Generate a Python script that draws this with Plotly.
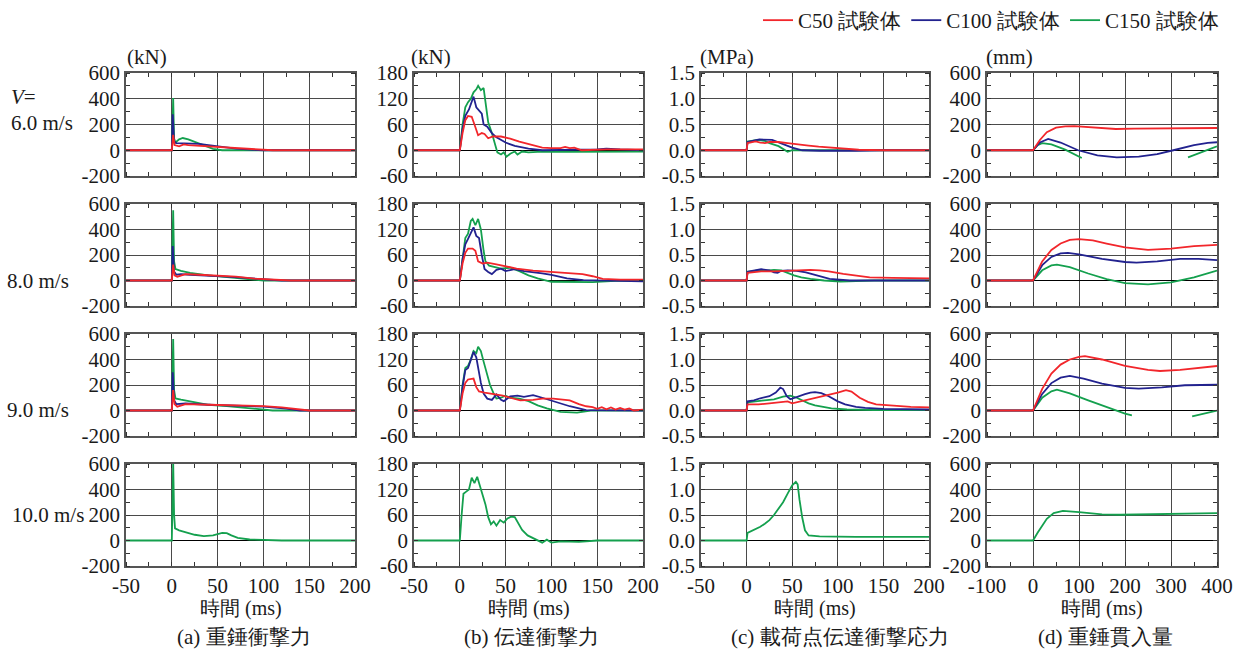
import plotly.graph_objects as go

# ---------------- data (time ms, value) ----------------
# (a) hammer impact force [kN]
a6_c50 = [(-50,0),(0,0),(1.5,120),(3,40),(8,30),(13,45),(18,40),(30,35),(50,25),(70,15),(90,8),(100,3),(110,0),(200,0)]
a6_c100 = [(-50,0),(0,0),(1,280),(2.5,70),(5,55),(15,55),(30,50),(40,40),(55,25),(70,12),(90,3),(100,0),(200,0)]
a6_c150 = [(-50,0),(0,0),(0.8,200),(1.5,405),(2.5,90),(4,60),(8,85),(12,95),(18,85),(25,65),(35,35),(45,10),(55,0),(200,0)]
a8_c50 = [(-50,0),(0,0),(1.5,125),(3,40),(6,30),(15,50),(30,45),(50,38),(70,30),(90,15),(110,5),(130,0),(200,0)]
a8_c100 = [(-50,0),(0,0),(1,270),(2.5,70),(5,45),(10,50),(20,45),(40,40),(60,30),(80,20),(100,8),(120,0),(200,0)]
a8_c150 = [(-50,0),(0,0),(0.8,300),(1.5,550),(2.5,150),(4,90),(10,75),(20,60),(40,40),(60,25),(80,10),(100,0),(200,0)]
a9_c50 = [(-50,0),(0,0),(1.5,160),(3,50),(6,30),(15,50),(40,45),(70,42),(100,35),(120,25),(140,10),(150,0),(200,0)]
a9_c100 = [(-50,0),(0,0),(1,300),(2.5,80),(5,50),(15,55),(40,45),(70,40),(100,30),(125,15),(140,0),(200,0)]
a9_c150 = [(-50,0),(0,0),(0.8,300),(1.5,560),(2.5,160),(4,95),(10,85),(20,70),(40,45),(60,35),(80,20),(100,5),(110,0),(200,0)]
a10_c150 = [(-50,0),(0,0),(0.8,300),(1.5,620),(2.5,200),(3.5,95),(8,80),(16,62),(25,45),(35,35),(45,40),(55,60),(60,58),(65,40),(72,20),(85,8),(100,3),(120,0),(200,0)]

# (b) transmitted impact force [kN]
b6_c50 = [(-50,0),(0,0),(3,40),(6,70),(9,80),(13,78),(16,60),(20,35),(24,40),(27,38),(31,28),(36,32),(45,32),(55,27),(65,20),(75,14),(90,6),(100,5),(110,5),(115,8),(120,5),(125,6),(133,0),(160,2),(200,2)]
b6_c100 = [(-50,0),(0,0),(3,50),(6,80),(10,95),(13,115),(15,125),(18,100),(21,92),(24,85),(26,60),(30,55),(35,40),(40,30),(50,18),(60,10),(75,4),(90,0),(150,2),(160,4),(175,2),(200,0)]
b6_c150 = [(-50,0),(0,0),(3,60),(6,100),(9,112),(12,120),(15,135),(18,142),(20,150),(23,140),(26,145),(28,110),(31,65),(35,40),(38,20),(41,-5),(45,-10),(48,-5),(51,-15),(55,-8),(60,-3),(63,-10),(68,-3),(75,-5),(90,-3),(120,-4),(200,-3)]
b8_c50 = [(-50,0),(0,0),(3,40),(6,65),(9,75),(14,75),(17,70),(20,45),(25,40),(30,42),(40,38),(50,33),(62,28),(80,23),(98,20),(115,17),(134,15),(145,10),(156,4),(175,2),(200,2)]
b8_c100 = [(-50,0),(0,0),(3,50),(6,85),(9,98),(12,110),(15,125),(18,105),(21,100),(24,60),(27,27),(31,20),(35,15),(40,25),(45,28),(50,22),(55,25),(60,27),(70,22),(80,20),(90,17),(100,13),(117,5),(135,1),(150,0),(200,-2)]
b8_c150 = [(-50,0),(0,0),(3,50),(6,100),(9,110),(12,140),(14,145),(17,130),(20,145),(23,120),(26,70),(28,45),(32,35),(38,32),(45,28),(55,30),(65,22),(75,12),(85,5),(100,-3),(120,-4),(145,-4),(170,-1),(200,0)]
b9_c50 = [(-50,0),(0,0),(3,40),(6,65),(9,73),(15,75),(18,55),(21,45),(27,42),(33,40),(40,38),(47,35),(55,30),(66,24),(80,25),(90,28),(102,28),(112,26),(120,24),(130,15),(138,10),(145,8),(150,4),(155,8),(160,3),(165,7),(170,2),(175,6),(180,2),(185,5),(190,0),(200,2)]
b9_c100 = [(-50,0),(0,0),(3,55),(6,95),(9,100),(12,120),(15,138),(18,125),(20,100),(23,65),(26,40),(30,28),(35,25),(40,38),(45,25),(48,22),(55,33),(63,35),(70,32),(80,36),(90,30),(98,25),(110,18),(120,10),(138,1),(200,0)]
b9_c150 = [(-50,0),(0,0),(3,60),(6,100),(9,105),(12,120),(15,140),(18,135),(20,150),(23,140),(26,115),(30,80),(33,60),(37,40),(40,28),(45,30),(50,35),(55,30),(65,28),(75,22),(85,12),(95,5),(110,-3),(128,-5),(143,0),(200,0)]
b10_c150 = [(-50,0),(0,0),(2,60),(4,110),(7,115),(10,120),(13,148),(16,135),(19,150),(22,130),(25,110),(28,85),(31,55),(34,38),(37,45),(40,35),(44,48),(48,42),(52,52),(56,56),(60,55),(64,40),(68,25),(74,12),(80,5),(85,0),(90,-5),(95,2),(100,-5),(110,-2),(130,-3),(150,0),(200,0)]

# (c) transmitted impact stress at loading point [MPa]
c6_c50 = [(-50,0),(0,0),(1,0.14),(5,0.16),(10,0.17),(15,0.15),(20,0.14),(25,0.16),(35,0.16),(45,0.14),(57,0.11),(68,0.09),(79,0.07),(97,0.04),(110,0.02),(123,0.01),(150,0),(200,0)]
c6_c100 = [(-50,0),(0,0),(1,0.16),(5,0.18),(14,0.21),(28,0.2),(35,0.15),(42,0.1),(50,0.05),(61,0),(80,-0.01),(120,-0.01),(150,0),(200,0)]
c6_c150 = [(-50,0),(0,0),(1,0.17),(5,0.18),(12,0.2),(20,0.18),(25,0.14),(35,0.08),(45,-0.03),(50,0),(200,0)]
c8_c50 = [(-50,0),(0,0),(1,0.15),(8,0.17),(16,0.18),(30,0.18),(45,0.19),(60,0.2),(70,0.21),(80,0.2),(90,0.18),(106,0.13),(120,0.09),(135,0.06),(160,0.05),(200,0.04)]
c8_c100 = [(-50,0),(0,0),(1,0.17),(8,0.2),(16,0.22),(25,0.2),(30,0.16),(34,0.15),(38,0.19),(45,0.2),(55,0.19),(65,0.16),(77,0.1),(91,0.03),(113,0),(200,0)]
c8_c150 = [(-50,0),(0,0),(1,0.17),(8,0.19),(13,0.2),(20,0.19),(30,0.21),(38,0.2),(45,0.15),(52,0.1),(60,0.06),(70,0.03),(85,0),(103,-0.02),(120,-0.01),(140,0),(200,0)]
c9_c50 = [(-50,0),(0,0),(1,0.12),(13,0.12),(25,0.14),(39,0.16),(45,0.18),(50,0.14),(60,0.18),(70,0.22),(80,0.26),(90,0.3),(100,0.35),(109,0.4),(115,0.37),(124,0.25),(133,0.17),(142,0.12),(160,0.09),(180,0.07),(200,0.06)]
c9_c100 = [(-50,0),(0,0),(1,0.18),(8,0.2),(15,0.24),(25,0.28),(32,0.35),(37,0.45),(40,0.42),(44,0.28),(48,0.22),(55,0.27),(64,0.32),(70,0.35),(75,0.36),(82,0.34),(90,0.28),(100,0.18),(108,0.12),(120,0.07),(130,0.05),(150,0.03),(200,0.02)]
c9_c150 = [(-50,0),(0,0),(1,0.16),(10,0.18),(21,0.2),(30,0.22),(40,0.27),(48,0.29),(55,0.25),(61,0.2),(68,0.14),(75,0.1),(85,0.06),(93,0.04),(110,0.02),(140,0.01),(200,0.01)]
c10_c150 = [(-50,0),(0,0),(1,0.15),(5,0.18),(10,0.22),(15,0.27),(20,0.33),(25,0.4),(30,0.5),(35,0.62),(40,0.75),(45,0.92),(50,1.08),(54,1.15),(56,1.1),(58,0.8),(61,0.45),(64,0.2),(68,0.1),(80,0.08),(120,0.07),(200,0.07)]

# (d) hammer penetration [mm]
d6_c50 = [(-100,0),(0,0),(15,80),(30,140),(50,175),(70,185),(90,188),(130,180),(180,165),(220,168),(300,172),(400,173)]
d6_c100 = [(-100,0),(0,0),(15,60),(33,88),(60,60),(98,0),(140,-40),(182,-55),(230,-50),(270,-30),(305,0),(350,40),(380,58),(400,62)]
d6_c150 = [(-100,0),(0,0),(10,40),(20,55),(40,45),(70,5),(106,-60),(200,None),(337,-55),(370,-10),(400,30)]
d8_c50 = [(-100,0),(0,0),(20,150),(40,240),(60,290),(80,318),(100,325),(130,315),(160,290),(200,260),(250,240),(300,250),(350,270),(400,280)]
d8_c100 = [(-100,0),(0,0),(20,120),(40,185),(60,212),(76,217),(100,205),(150,170),(200,145),(225,140),(270,150),(320,170),(360,170),(400,160)]
d8_c150 = [(-100,0),(0,0),(20,80),(40,118),(52,124),(80,105),(120,55),(160,10),(200,-20),(250,-30),(300,-15),(350,25),(400,78)]
d9_c50 = [(-100,0),(0,0),(20,170),(40,290),(60,360),(80,400),(100,420),(113,426),(150,400),(200,350),(250,318),(276,310),(320,318),(360,335),(400,349)]
d9_c100 = [(-100,0),(0,0),(20,130),(40,215),(60,258),(80,271),(110,250),(150,210),(200,178),(230,172),(280,182),(330,198),(400,202)]
d9_c150 = [(-100,0),(0,0),(20,100),(40,150),(52,163),(80,135),(120,80),(160,25),(200,-25),(215,-39),(280,None),(346,-47),(370,-28),(400,0)]
d10_c150 = [(-100,0),(0,0),(10,60),(20,120),(30,170),(45,215),(65,233),(100,222),(150,205),(190,202),(250,205),(300,212),(350,216),(400,215)]

SPEED_LABELS = ["6.0 m/s", "8.0 m/s", "9.0 m/s", "10.0 m/s"]
SERIES_NAMES = ["C50 試験体", "C100 試験体", "C150 試験体"]
UNITS = ["(kN)", "(kN)", "(MPa)", "(mm)"]
CAPTIONS = ["(a) 重錘衝撃力", "(b) 伝達衝撃力", "(c) 載荷点伝達衝撃応力", "(d) 重錘貫入量"]
X_TITLE = "時間 (ms)"

X_TICKS_T = [-50, 0, 50, 100, 150, 200]
X_TICKS_D = [-100, 0, 100, 200, 300, 400]
Y_TICKS_A = [-200, 0, 200, 400, 600]
Y_TICKS_B = [-60, 0, 60, 120, 180]
Y_TICKS_C = [-0.5, 0.0, 0.5, 1.0, 1.5]
Y_TICKS_D = [-200, 0, 200, 400, 600]

# ---------------- styling / layout ----------------
W, H = 1249, 649
FONT = "Liberation Serif"
FS = 21
COLORS = ["#F2262B", "#22228F", "#14A04E"]
COL_PX = [(126, 355), (414, 643), (701, 929), (987, 1217)]
ROW_PX = [(73, 176), (204, 306), (334, 436), (464, 566)]

panels = [
    [[a6_c50, a6_c100, a6_c150], [b6_c50, b6_c100, b6_c150], [c6_c50, c6_c100, c6_c150], [d6_c50, d6_c100, d6_c150]],
    [[a8_c50, a8_c100, a8_c150], [b8_c50, b8_c100, b8_c150], [c8_c50, c8_c100, c8_c150], [d8_c50, d8_c100, d8_c150]],
    [[a9_c50, a9_c100, a9_c150], [b9_c50, b9_c100, b9_c150], [c9_c50, c9_c100, c9_c150], [d9_c50, d9_c100, d9_c150]],
    [[None, None, a10_c150], [None, None, b10_c150], [None, None, c10_c150], [None, None, d10_c150]],
]

col_cfg = [
    dict(xr=[-50, 200], xt=X_TICKS_T, xm=25, yr=[-200, 600], yt=Y_TICKS_A, ym=100, fmt="{:g}"),
    dict(xr=[-50, 200], xt=X_TICKS_T, xm=25, yr=[-60, 180], yt=Y_TICKS_B, ym=30, fmt="{:g}"),
    dict(xr=[-50, 200], xt=X_TICKS_T, xm=25, yr=[-0.5, 1.5], yt=Y_TICKS_C, ym=0.25, fmt="{:.1f}"),
    dict(xr=[-100, 400], xt=X_TICKS_D, xm=50, yr=[-200, 600], yt=Y_TICKS_D, ym=100, fmt="{:g}"),
]

fig = go.Figure()
layout = {}
GRID = "#4a4a4a"
FRAME = "#555555"

for r in range(4):
    for c in range(4):
        k = r * 4 + c + 1
        xs = "" if k == 1 else str(k)
        cfg = col_cfg[c]
        x0, x1 = COL_PX[c]
        y0, y1 = ROW_PX[r]
        common = dict(
            showline=True, linecolor=FRAME, linewidth=1.5, mirror="allticks",
            showgrid=True, gridcolor=GRID, gridwidth=1,
            ticks="outside", ticklen=0, tickfont=dict(family=FONT, size=FS, color="#1a1a1a"),
            fixedrange=True, automargin=False,
        )
        layout["xaxis" + xs] = dict(
            common, domain=[x0 / W, x1 / W], anchor="y" + xs, range=cfg["xr"],
            tickmode="array", tickvals=cfg["xt"],
            ticktext=[str(v) for v in cfg["xt"]],
            showticklabels=(r == 3), zeroline=False, ticklabelstandoff=0,
            minor=dict(ticks="inside", ticklen=4, tickcolor="#333", dtick=cfg["xm"], tick0=0, showgrid=False),
        )
        layout["yaxis" + xs] = dict(
            common, domain=[1 - y1 / H, 1 - y0 / H], anchor="x" + xs, range=cfg["yr"],
            tickmode="array", tickvals=cfg["yt"],
            ticktext=[cfg["fmt"].format(v) for v in cfg["yt"]],
            zeroline=True, zerolinecolor="#000000", zerolinewidth=1, ticklabelstandoff=0,
            minor=dict(ticks="inside", ticklen=4, tickcolor="#333", dtick=cfg["ym"], tick0=0, showgrid=False),
        )
        series = panels[r][c]
        for s in [2, 1, 0]:
            pts = series[s]
            if pts is None:
                continue
            fig.add_trace(go.Scatter(
                x=[p[0] for p in pts], y=[p[1] for p in pts],
                mode="lines", line=dict(color=COLORS[s], width=1.8),
                name=SERIES_NAMES[s], legendrank=s + 1,
                showlegend=(k == 1), connectgaps=False,
                xaxis="x" + xs, yaxis="y" + xs, hoverinfo="skip",
            ))

ann = []
def A(text, x, y, size=FS, xanchor="left"):
    ann.append(dict(text=text, x=x / W, y=1 - y / H, xref="paper", yref="paper",
                    xanchor=xanchor, yanchor="middle", showarrow=False,
                    font=dict(family=FONT, size=size, color="#1a1a1a")))

A("<i>V</i>=", 9, 97)
A(SPEED_LABELS[0], 9, 123)
A(SPEED_LABELS[1], 5, 281)
A(SPEED_LABELS[2], 5, 410)
A(SPEED_LABELS[3], 10, 515)
unit_x = [125, 409, 698, 984]
for c in range(4):
    A(UNITS[c], unit_x[c], 57)
    cx = (COL_PX[c][0] + COL_PX[c][1]) / 2
    A(X_TITLE, cx, 608, size=20, xanchor="center")
    A(CAPTIONS[c], cx + (25 if c == 2 else 3), 637, size=21, xanchor="center")

layout.update(dict(
    width=W, height=H, margin=dict(l=0, r=0, t=0, b=0, pad=0, autoexpand=False),
    paper_bgcolor="white", plot_bgcolor="white",
    annotations=ann,
    legend=dict(orientation="h", x=1224 / W, xanchor="right", y=1.0, yanchor="top",
                font=dict(family=FONT, size=FS, color="#1a1a1a"), itemwidth=30,
                bgcolor="rgba(0,0,0,0)", traceorder="normal"),
    showlegend=True,
))
fig.update_layout(**layout)
fig.write_html("out.html")
